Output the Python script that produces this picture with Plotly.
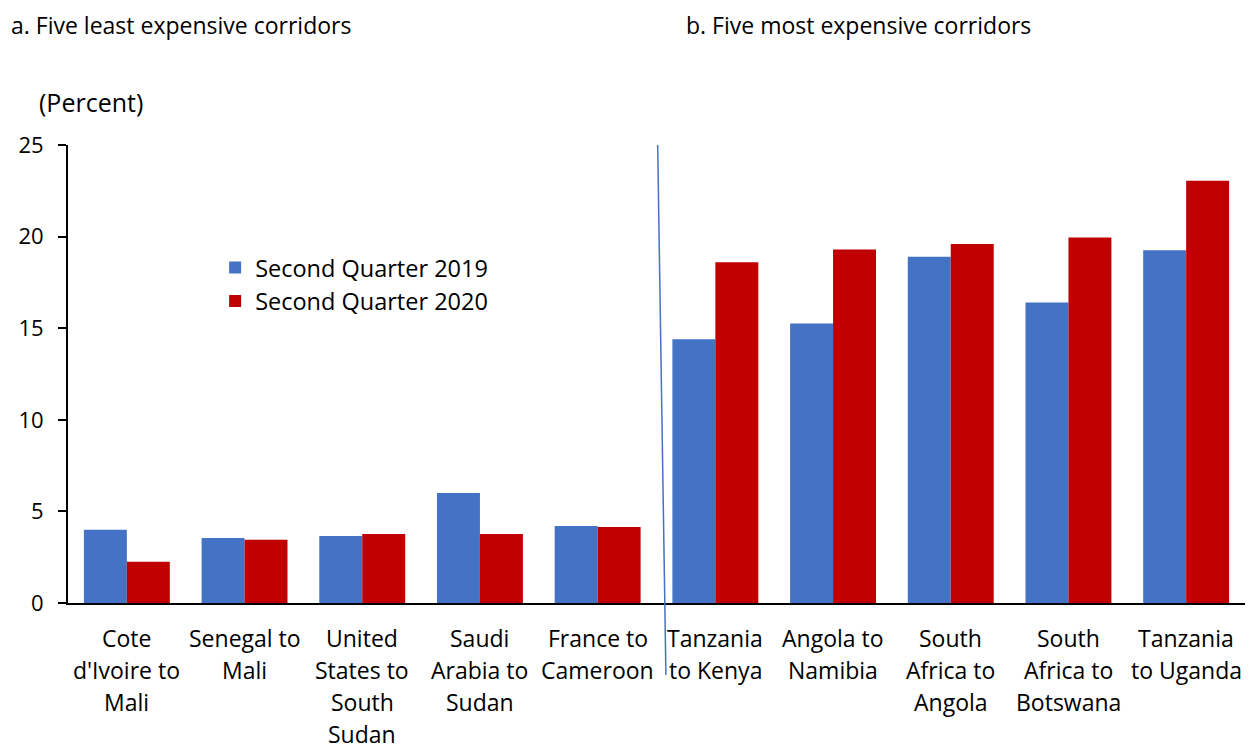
import plotly.graph_objects as go

corridors = [
    "Cote<br>d'Ivoire to<br>Mali",
    "Senegal to<br>Mali",
    "United<br>States to<br>South<br>Sudan",
    "Saudi<br>Arabia to<br>Sudan",
    "France to<br>Cameroon",
    "Tanzania<br>to Kenya",
    "Angola to<br>Namibia",
    "South<br>Africa to<br>Angola",
    "South<br>Africa to<br>Botswana",
    "Tanzania<br>to Uganda",
]
q2_2019 = [4.0, 3.55, 3.66, 6.0, 4.2, 14.4, 15.25, 18.9, 16.4, 19.25]
q2_2020 = [2.25, 3.45, 3.77, 3.77, 4.15, 18.6, 19.3, 19.6, 19.95, 23.05]
y_ticks = [0, 5, 10, 15, 20, 25]

FONT = "'Open Sans', sans-serif"
BLUE = "#4472C4"
RED = "#C00000"

fig = go.Figure()
fig.add_trace(go.Bar(x=corridors, y=q2_2019, name="Second Quarter 2019",
                     marker=dict(color=BLUE, line=dict(width=0))))
fig.add_trace(go.Bar(x=corridors, y=q2_2020, name="Second Quarter 2020",
                     marker=dict(color=RED, line=dict(width=0))))

fig.update_layout(
    width=1251, height=751,
    margin=dict(l=68, r=6, t=145, b=148),
    paper_bgcolor="white", plot_bgcolor="white",
    barmode="group", bargap=0.27, bargroupgap=0,
    font=dict(family=FONT, size=22, color="black"),
    showlegend=True,
    legend=dict(x=0.125, y=0.78, xanchor="left", yanchor="top",
                bgcolor="rgba(0,0,0,0)", font=dict(size=23.5),
                itemwidth=30),
    xaxis=dict(showline=True, linecolor="black", linewidth=2,
               ticks="", showticklabels=False, showgrid=False),
    yaxis=dict(range=[0, 25], tickvals=y_ticks, showline=True,
               linecolor="black", linewidth=2, ticks="outside",
               ticklen=8, tickwidth=2, tickcolor="black",
               ticklabelstandoff=10,
               showgrid=False, zeroline=False, tickfont=dict(size=22)),
)

# Category labels, one line at a time for Excel-like line spacing
for name in corridors:
    for i, line in enumerate(name.split("<br>")):
        fig.add_annotation(text=line, x=name, xref="x", y=0, yref="paper",
                           yanchor="middle", xanchor="center", showarrow=False,
                           yshift=-(35 + 32 * i), font=dict(size=23))

# Divider between the two panels
fig.add_shape(type="line", xref="x", yref="paper",
              x0=4.51, y0=1.0, x1=4.58, y1=-0.157,
              line=dict(color=BLUE, width=1.5))

fig.add_annotation(text="a. Five least expensive corridors", xref="paper", yref="paper",
                   x=-0.05, y=1.262, xanchor="left", yanchor="middle",
                   showarrow=False, font=dict(size=23))
fig.add_annotation(text="b. Five most expensive corridors", xref="paper", yref="paper",
                   x=0.523, y=1.262, xanchor="left", yanchor="middle",
                   showarrow=False, font=dict(size=23))
fig.add_annotation(text="(Percent)", xref="paper", yref="paper",
                   x=-0.026, y=1.093, xanchor="left", yanchor="middle",
                   showarrow=False, font=dict(size=25))

fig.write_html("out.html")
